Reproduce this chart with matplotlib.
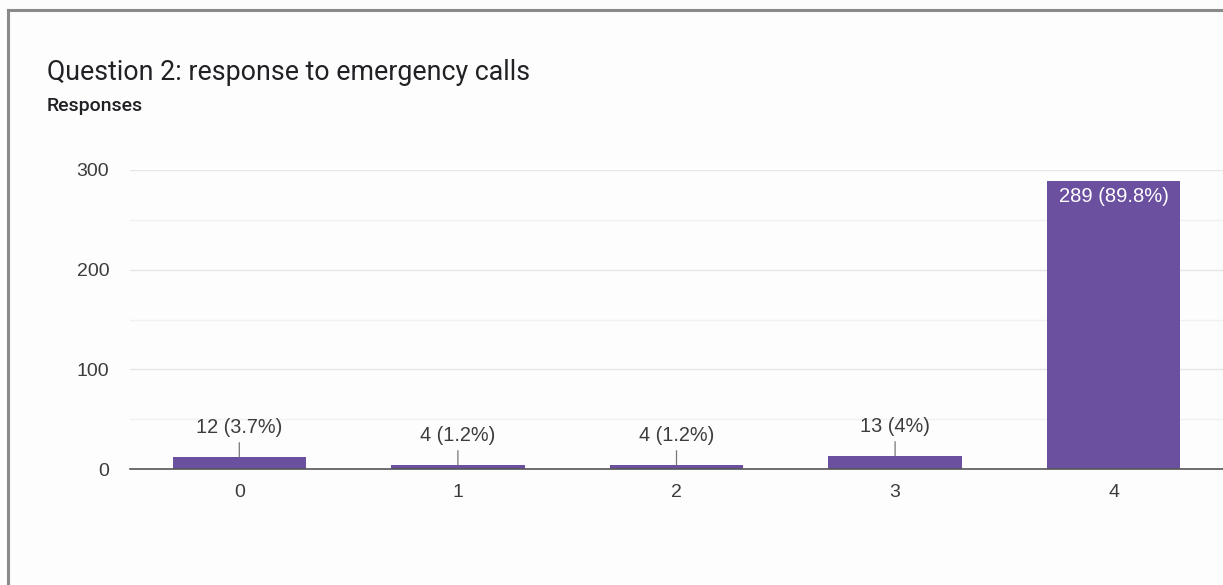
import numpy as np
import matplotlib.pyplot as plt
from matplotlib.lines import Line2D

# datos
categorias = ['0', '1', '2', '3', '4']
respuestas = [12, 4, 4, 13, 289]
etiquetas = ['12 (3.7%)', '4 (1.2%)', '4 (1.2%)', '13 (4%)', '289 (89.8%)']
ticksY = [0, 100, 200, 300]

colorBarra = '#6b50a0'
colorTexto = '#3c3c3c'

fig = plt.figure(figsize=(12.23, 5.85), dpi=100)
fig.patch.set_facecolor('#fdfdfd')

# marco gris de la captura
fig.add_artist(Line2D([8/1223, 8/1223], [0, 1 - 10/585], color='#8a8a8a', lw=2.2))
fig.add_artist(Line2D([8/1223, 1], [1 - 10/585, 1 - 10/585], color='#8a8a8a', lw=2.2))

fig.text(47/1223, 1 - 72/585, 'Question 2: response to emergency calls', fontsize=19.3,
         family='Roboto', color='#202124', va='center')
fig.text(47/1223, 1 - 106/585, 'Responses', fontsize=14, family='Roboto',
         color='#202124', va='center', fontweight='medium')

ax = fig.add_axes([130/1223, 1 - 469/585, 1 - 130/1223, (469 - 170)/585])
ax.set_facecolor('#fdfdfd')
x = np.arange(len(categorias))
ax.bar(x, respuestas, width=0.61, color=colorBarra, zorder=3)
ax.set_xlim(-0.5, 4.5)
ax.set_ylim(0, 300)
ax.set_yticks(ticksY)
ax.set_yticks([50, 150, 250], minor=True)
ax.set_xticks(x)
ax.set_xticklabels(categorias)
ax.grid(axis='y', which='major', color='#e6e6e6', lw=1, zorder=0)
ax.grid(axis='y', which='minor', color='#f1f1f1', lw=1, zorder=0)
for s in ['top', 'right', 'left']:
    ax.spines[s].set_visible(False)
ax.spines['bottom'].set_color('#555555')
ax.spines['bottom'].set_linewidth(1.2)
ax.spines['bottom'].set_zorder(4)
ax.tick_params(axis='both', which='both', length=0, labelsize=14, colors=colorTexto)
ax.tick_params(axis='y', pad=15)
ax.tick_params(axis='x', pad=11)
for lbl in ax.get_xticklabels() + ax.get_yticklabels():
    lbl.set_family('Liberation Sans')

# etiquetas de datos
for xi, v, et in zip(x, respuestas, etiquetas):
    if v > 100:
        ax.text(xi, v - 6, et, ha='center', va='top', color='white', fontsize=14.5,
                family='Liberation Sans', zorder=5)
    else:
        ax.annotate(et, xy=(xi, v), xytext=(xi, v + 20), ha='center', va='bottom',
                    fontsize=14.3, family='Liberation Sans', color=colorTexto,
                    arrowprops=dict(arrowstyle='-', color='#777777', lw=0.9,
                                    shrinkA=2, shrinkB=0), zorder=5)

fig.savefig('out.png', dpi=100, facecolor=fig.get_facecolor())
